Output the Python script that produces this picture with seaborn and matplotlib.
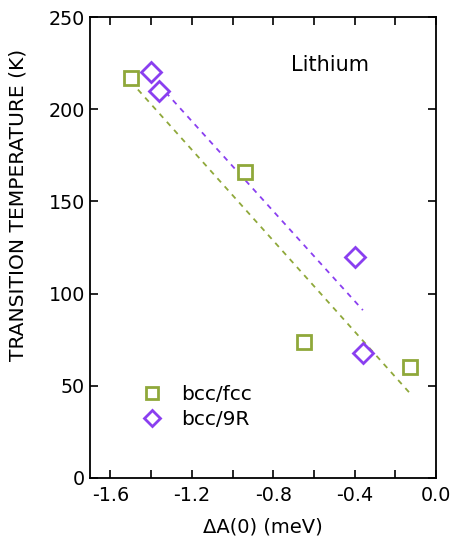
import numpy as np
import pandas as pd
import matplotlib
matplotlib.use("Agg")
import matplotlib.pyplot as plt
import seaborn as sns
from matplotlib.ticker import MultipleLocator

# data
fcc_x = [-1.50, -0.94, -0.65, -0.127]
fcc_y = [217, 166, 74, 60]
r9_x = [-1.40, -1.36, -0.40, -0.36]
r9_y = [220, 210, 120, 68]

green = "#8fa83a"
purple = "#8a3ff0"

sns.set_style("ticks")
plt.rcParams['font.family'] = ['DejaVu Sans']
plt.rcParams['text.color'] = 'black'
plt.rcParams['axes.labelcolor'] = 'black'

fig = plt.figure(figsize=(4.52, 5.41), dpi=100)
ax = fig.add_axes([0.199, 0.1165, 0.766, 0.852])

# linear fits (dashed)
for xs, ys, c in [(fcc_x, fcc_y, green), (r9_x, r9_y, purple)]:
    m, b = np.polyfit(xs, ys, 1)
    xx = np.array([min(xs), max(xs)])
    sns.lineplot(x=xx, y=m * xx + b, ax=ax, color=c, lw=1.3,
                 dashes=False, zorder=1)
    ax.lines[-1].set_linestyle((0, (3, 3)))

# open markers so faces stay empty
ax.plot(fcc_x, fcc_y, ls="none", marker="s", ms=10.5, mfc="white",
        mec=green, mew=2, zorder=3, label="bcc/fcc")
ax.plot(r9_x, r9_y, ls="none", marker="D", ms=10, mfc="white",
        mec=purple, mew=2, zorder=3, label="bcc/9R")

ax.set_xlim(-1.7, 0.0)
ax.set_ylim(0, 250)
ax.xaxis.set_major_locator(MultipleLocator(0.4))
ax.xaxis.set_minor_locator(MultipleLocator(0.2))
ax.yaxis.set_major_locator(MultipleLocator(50))
ax.set_xticklabels([f"{v:.1f}" for v in ax.get_xticks()])
ax.tick_params(which="both", direction="in", top=True, right=True,
               length=6, width=1.2, labelsize=13.8, colors="black")
ax.tick_params(axis="x", pad=6)
for s in ax.spines.values():
    s.set_linewidth(1.3)
    s.set_color("black")

ax.set_xlabel("ΔA(0) (meV)", fontsize=14, labelpad=9)
ax.set_ylabel("TRANSITION TEMPERATURE (K)", fontsize=14.6)
ax.yaxis.set_label_coords(-0.18, 0.592)
ax.text(-0.52, 224, "Lithium", fontsize=15, ha="center", va="center")

leg = ax.legend(loc="lower left", bbox_to_anchor=(0.07, 0.067), frameon=False,
                fontsize=14.5, markerscale=0.8, handletextpad=0.4,
                labelspacing=0.3)

fig.savefig("out.png", dpi=100)
